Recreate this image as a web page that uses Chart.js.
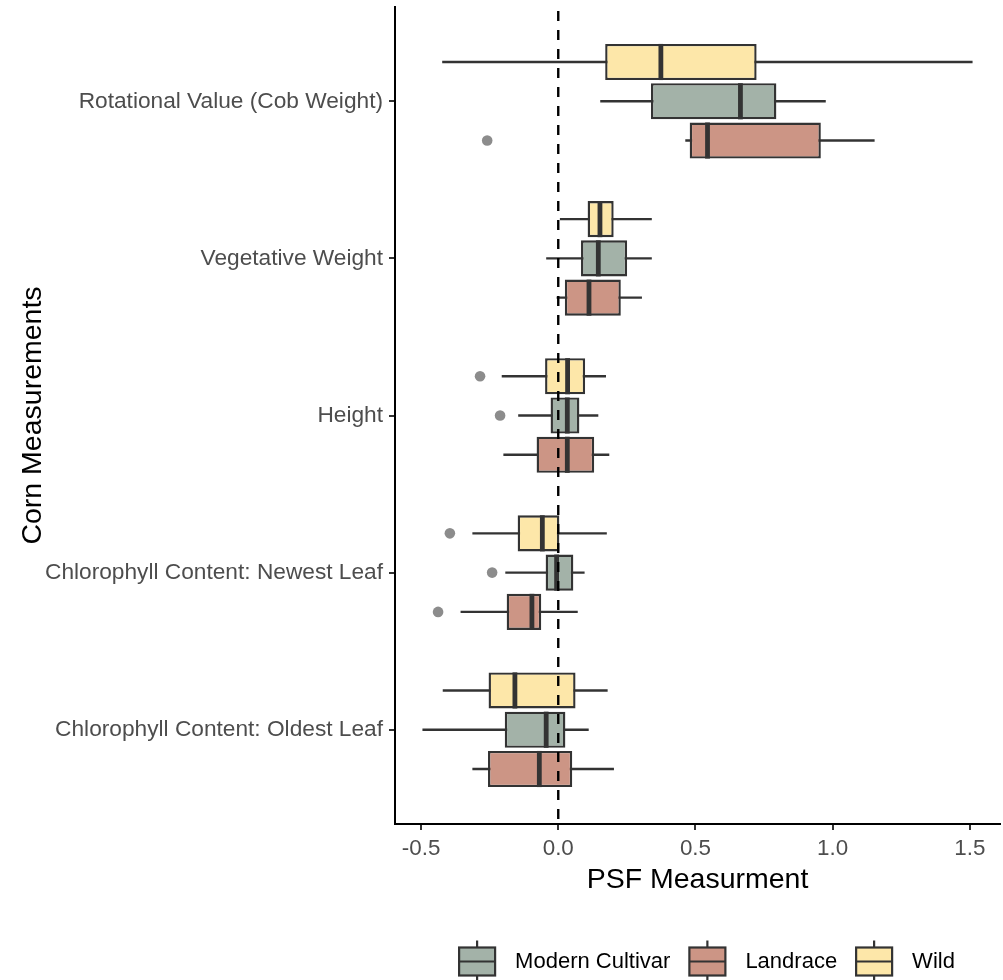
<!DOCTYPE html>
<html>
<head>
<meta charset="utf-8">
<title>PSF by corn measurement</title>
<script src="https://cdn.jsdelivr.net/npm/chart.js@4.4.1/dist/chart.umd.min.js"></script>
<style>
  html, body { margin: 0; padding: 0; background: #ffffff; }
  canvas { display: block; }
</style>
</head>
<body>
<canvas id="psf" width="1003" height="980"></canvas>
<script>
// Measurement categories, top to bottom
const measurements = [
  'Rotational Value (Cob Weight)',
  'Vegetative Weight',
  'Height',
  'Chlorophyll Content: Newest Leaf',
  'Chlorophyll Content: Oldest Leaf'
];

// Tick positions on the PSF axis
const psfTicks = [-0.5, 0.0, 0.5, 1.0, 1.5];

// Order of the legend entries
const legendOrder = ['Modern Cultivar', 'Landrace', 'Wild'];

// Wild
const wildLow      = [-0.423, 0.006, -0.206, -0.313, -0.421];
const wildQ1       = [ 0.171, 0.107, -0.048, -0.148, -0.254];
const wildMedian   = [ 0.374, 0.152,  0.034, -0.058, -0.158];
const wildQ3       = [ 0.723, 0.202,  0.098,  0.004,  0.063];
const wildHigh     = [ 1.510, 0.341,  0.174,  0.177,  0.180];
const wildOutliers = [[], [], [-0.285], [-0.395], []];

// Modern Cultivar
const modernLow      = [0.153, -0.044, -0.146, -0.193, -0.495];
const modernQ1       = [0.338,  0.083, -0.028, -0.046, -0.195];
const modernMedian   = [0.664,  0.146,  0.033, -0.006, -0.044];
const modernQ3       = [0.795,  0.251,  0.077,  0.055,  0.026];
const modernHigh     = [0.975,  0.341,  0.146,  0.096,  0.111];
const modernOutliers = [[], [], [-0.212], [-0.241], []];

// Landrace
const landraceLow      = [0.463, -0.006, -0.200, -0.356, -0.313];
const landraceQ1       = [0.479,  0.024, -0.079, -0.188, -0.256];
const landraceMedian   = [0.544,  0.112,  0.033, -0.096, -0.069];
const landraceQ3       = [0.957,  0.228,  0.131, -0.062,  0.051];
const landraceHigh     = [1.153,  0.305,  0.186,  0.071,  0.203];
const landraceOutliers = [[-0.259], [], [], [-0.438], []];

const INK = '#333333';
const FONT = '"Liberation Sans", Arial, Helvetica, sans-serif';

function boxDataset(label, color, low, q1, median, q3, high, outliers) {
  return {
    label,
    data: measurements.map((_, i) => ({ y: i, x: [q1[i], q3[i]] })),
    backgroundColor: color,
    borderColor: INK,
    borderWidth: 2.4,
    borderSkipped: false,
    whiskerLow: low,
    median,
    whiskerHigh: high,
    outliers
  };
}

// Whiskers under the boxes, medians / outliers / zero line on top
const boxplotParts = {
  id: 'boxplotParts',
  beforeDatasetsDraw(chart) {
    const { ctx } = chart;
    const xs = chart.scales.x;
    ctx.save();
    ctx.strokeStyle = INK;
    ctx.lineWidth = 2.4;
    chart.data.datasets.forEach((ds, d) => {
      chart.getDatasetMeta(d).data.forEach((bar, i) => {
        ctx.beginPath();
        ctx.moveTo(xs.getPixelForValue(ds.whiskerLow[i]), bar.y);
        ctx.lineTo(xs.getPixelForValue(ds.whiskerHigh[i]), bar.y);
        ctx.stroke();
      });
    });
    ctx.restore();
  },
  afterDatasetsDraw(chart) {
    const { ctx, chartArea } = chart;
    const xs = chart.scales.x;
    ctx.save();
    chart.data.datasets.forEach((ds, d) => {
      chart.getDatasetMeta(d).data.forEach((bar, i) => {
        const h = bar.height;
        const mx = xs.getPixelForValue(ds.median[i]);
        ctx.strokeStyle = INK;
        ctx.lineWidth = 4.8;
        ctx.lineCap = 'butt';
        ctx.beginPath();
        ctx.moveTo(mx, bar.y - h / 2);
        ctx.lineTo(mx, bar.y + h / 2);
        ctx.stroke();
        ctx.fillStyle = '#8c8c8c';
        ds.outliers[i].forEach(v => {
          ctx.beginPath();
          ctx.arc(xs.getPixelForValue(v), bar.y, 5.3, 0, Math.PI * 2);
          ctx.fill();
        });
      });
    });
    // dashed reference line at PSF = 0
    const zx = xs.getPixelForValue(0);
    ctx.strokeStyle = '#000000';
    ctx.lineWidth = 2.4;
    ctx.setLineDash([10, 9]);
    ctx.beginPath();
    ctx.moveTo(zx, chartArea.top + 4);
    ctx.lineTo(zx, chartArea.bottom);
    ctx.stroke();
    ctx.restore();
  },
  afterDraw(chart) {
    // legend with box glyphs
    const { ctx } = chart;
    const entries = legendOrder.map(name => chart.data.datasets.find(ds => ds.label === name));
    ctx.save();
    ctx.font = '22px ' + FONT;
    const glyphW = 36, glyphToText = 20, textToGlyph = 19;
    const widths = entries.map(ds => ctx.measureText(ds.label).width);
    let total = 0;
    widths.forEach((w, k) => { total += glyphW + glyphToText + w + (k < widths.length - 1 ? textToGlyph : 0); });
    let x = 707 - total / 2;
    const cy = 961.5, boxTop = 947.5, boxH = 28;
    entries.forEach((ds, k) => {
      ctx.strokeStyle = INK;
      ctx.lineWidth = 2.2;
      ctx.beginPath();
      ctx.moveTo(x + glyphW / 2, boxTop - 7);
      ctx.lineTo(x + glyphW / 2, boxTop + boxH + 7);
      ctx.stroke();
      ctx.fillStyle = ds.backgroundColor;
      ctx.fillRect(x, boxTop, glyphW, boxH);
      ctx.strokeRect(x, boxTop, glyphW, boxH);
      ctx.beginPath();
      ctx.moveTo(x, cy);
      ctx.lineTo(x + glyphW, cy);
      ctx.stroke();
      x += glyphW + glyphToText;
      ctx.fillStyle = '#000000';
      ctx.textAlign = 'left';
      ctx.textBaseline = 'middle';
      ctx.fillText(ds.label, x, cy);
      x += widths[k] + textToGlyph;
    });
    ctx.restore();
  }
};

Chart.defaults.font.family = FONT;

new Chart(document.getElementById('psf'), {
  type: 'bar',
  data: {
    datasets: [
      boxDataset('Wild', '#FDE7A9', wildLow, wildQ1, wildMedian, wildQ3, wildHigh, wildOutliers),
      boxDataset('Modern Cultivar', '#A3B2A8', modernLow, modernQ1, modernMedian, modernQ3, modernHigh, modernOutliers),
      boxDataset('Landrace', '#CC9585', landraceLow, landraceQ1, landraceMedian, landraceQ3, landraceHigh, landraceOutliers)
    ]
  },
  options: {
    indexAxis: 'y',
    responsive: false,
    animation: false,
    devicePixelRatio: 1,
    categoryPercentage: 0.75,
    barPercentage: 0.92,
    layout: { padding: { top: 7, right: 3, left: 0, bottom: 0 } },
    plugins: {
      legend: { display: false },
      tooltip: { enabled: false }
    },
    scales: {
      y: {
        type: 'linear',
        position: 'left',
        reverse: true,
        offset: false,
        min: -0.6,
        max: measurements.length - 0.4,
        afterBuildTicks: s => { s.ticks = measurements.map((_, i) => ({ value: i })); },
        afterFit: s => { s.width = 395; s.paddingTop = 0; s.paddingBottom = 0; },
        ticks: {
          autoSkip: false,
          padding: 6,
          color: '#4D4D4D',
          font: { size: 22.7 },
          callback: v => measurements[v]
        },
        grid: { display: true, offset: false, drawOnChartArea: false, drawTicks: true, tickLength: 6, color: INK, lineWidth: 2 },
        border: { display: true, color: '#000000', width: 2 },
        title: {
          display: true,
          text: 'Corn Measurements',
          color: '#000000',
          font: { size: 28.5 },
          padding: { top: 16, bottom: 0 }
        }
      },
      x: {
        type: 'linear',
        position: 'bottom',
        min: -0.595,
        max: 1.61,
        afterBuildTicks: s => { s.ticks = psfTicks.map(v => ({ value: v })); },
        afterFit: s => { s.height = 156; },
        ticks: {
          autoSkip: false,
          padding: 5,
          color: '#4D4D4D',
          font: { size: 22.4 },
          callback: v => Number(v).toFixed(1)
        },
        grid: { display: true, drawOnChartArea: false, drawTicks: true, tickLength: 6, color: INK, lineWidth: 2 },
        border: { display: true, color: '#000000', width: 2 },
        title: {
          display: true,
          text: 'PSF Measurment',
          color: '#000000',
          font: { size: 28.5 },
          padding: { top: 0, bottom: 83 }
        }
      }
    }
  },
  plugins: [boxplotParts]
});
</script>
</body>
</html>
